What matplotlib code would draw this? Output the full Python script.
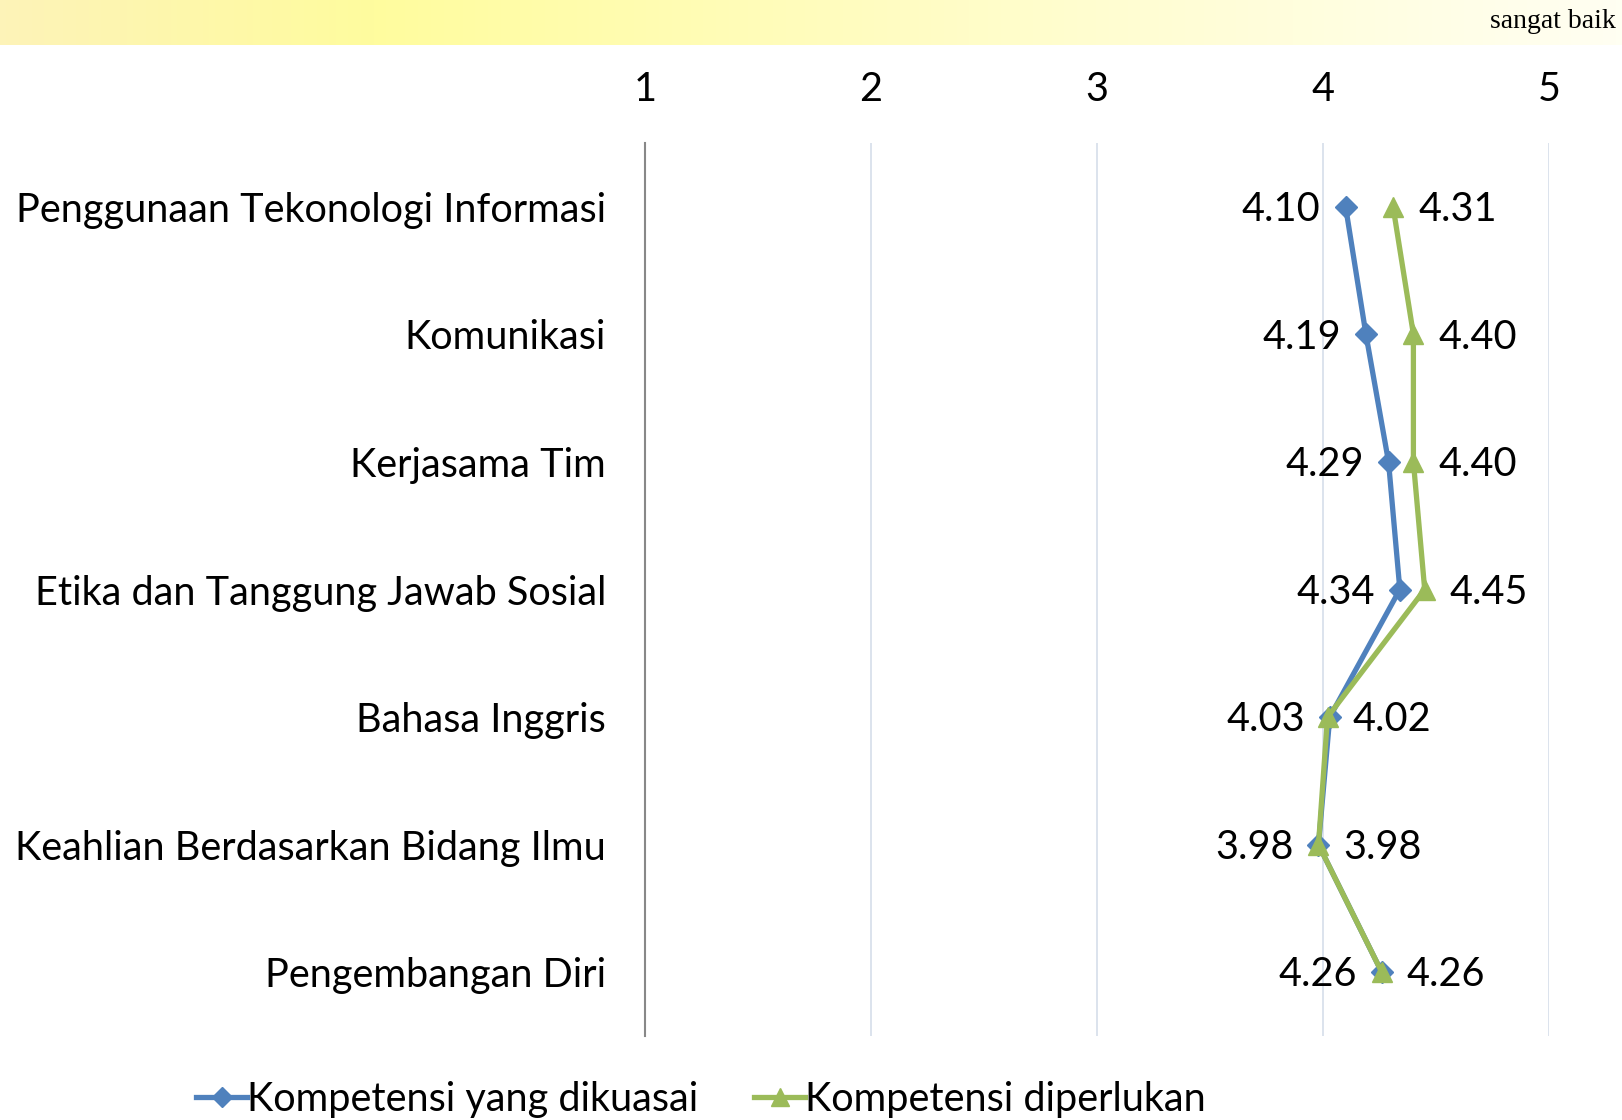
import matplotlib
matplotlib.use("Agg")
import matplotlib.pyplot as plt
import numpy as np
from matplotlib.colors import LinearSegmentedColormap

categories = ["Penggunaan Tekonologi Informasi", "Komunikasi", "Kerjasama Tim",
              "Etika dan Tanggung Jawab Sosial", "Bahasa Inggris",
              "Keahlian Berdasarkan Bidang Ilmu", "Pengembangan Diri"]
dikuasai = [4.10, 4.19, 4.29, 4.34, 4.03, 3.98, 4.26]
diperlukan = [4.31, 4.40, 4.40, 4.45, 4.02, 3.98, 4.26]
xticks = [1, 2, 3, 4, 5]
series_names = ["Kompetensi yang dikuasai", "Kompetensi diperlukan"]

BLUE = "#4F81BD"
GREEN = "#9BBB59"
FONT = "Lato"
FS = 28.5

W, H = 1622, 1120
fig = plt.figure(figsize=(W / 100, H / 100), dpi=100)

# Yellow gradient band at top
band = fig.add_axes([0, 1 - 45 / H, 1, 45 / H])
cmap = LinearSegmentedColormap.from_list(
    "band", [(0.0, "#FDF3B8"), (0.23, "#FFFC9E"), (0.6, "#FFFDC8"), (1.0, "#FFFFF2")])
band.imshow(np.linspace(0, 1, 512)[None, :], aspect="auto", cmap=cmap,
            extent=[0, 1, 0, 1])
band.set_axis_off()
fig.text(1616 / W, 1 - 21 / H, "sangat baik", ha="right", va="center",
         fontsize=20, family="Liberation Serif")

ax = fig.add_axes([645 / W, 84 / H, 904 / W, 893 / H])
y = np.arange(len(categories))
ax.set_xlim(1, 5)
ax.set_ylim(len(categories) - 0.5, -0.5)

for xv in xticks[1:]:
    ax.axvline(xv, color="#D9E1EC", lw=1.3, zorder=0)
for s in ["top", "right", "bottom"]:
    ax.spines[s].set_visible(False)
ax.spines["left"].set_color("#888888")
ax.spines["left"].set_linewidth(1.5)

ax.plot(dikuasai, y, color=BLUE, lw=3.8, marker="D", ms=11.5, label=series_names[0],
        zorder=3)
ax.plot(diperlukan, y, color=GREEN, lw=3.8, marker="^", ms=14, label=series_names[1],
        zorder=4)

for yi, v in zip(y, dikuasai):
    ax.annotate(f"{v:.2f}", (v, yi), xytext=(-18, -2), textcoords="offset points",
                ha="right", va="center", fontsize=FS, family=FONT)
for yi, v in zip(y, diperlukan):
    ax.annotate(f"{v:.2f}", (v, yi), xytext=(18, -2), textcoords="offset points",
                ha="left", va="center", fontsize=FS, family=FONT)

ax.xaxis.tick_top()
ax.set_xticks(xticks)
ax.set_xticklabels([str(t) for t in xticks], fontsize=FS, family=FONT)
ax.tick_params(axis="x", length=0, pad=25)
ax.set_yticks(y)
ax.set_yticklabels(categories, fontsize=FS, family=FONT)
ax.tick_params(axis="y", length=0, pad=28)

leg = fig.legend(loc="center", bbox_to_anchor=(701 / W, 1 - 1099 / H), ncol=2,
                 frameon=False, prop={"family": FONT, "size": FS},
                 handlelength=1.3, handletextpad=0.0, columnspacing=1.4,
                 markerscale=0.9)

fig.savefig("out.png", dpi=100)
